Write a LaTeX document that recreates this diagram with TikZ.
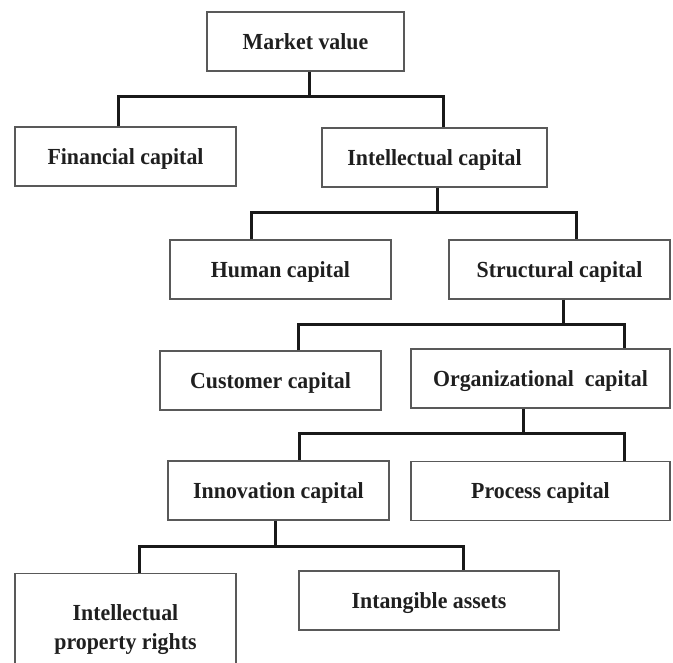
\documentclass[tikz,border=0pt]{standalone}
\usepackage{fontspec}
\setmainfont{Liberation Serif}[FakeStretch=0.95]
\begin{document}
\begin{tikzpicture}[x=1pt,y=-1pt,
  box/.style={draw=black!65, line width=1.2pt, minimum height=59pt, inner sep=0pt,
    text height=15.5pt, text depth=0pt, text=black!88,
    font=\fontsize{23}{29}\selectfont\bfseries},
  txt/.style={text=black!88, inner sep=0pt, align=center,
    font=\fontsize{23}{29}\selectfont\bfseries},
  conn/.style={draw=black!90, line width=3pt, line join=miter}]
\useasboundingbox (0,0) rectangle (673,663);
\clip (0,0) rectangle (673,663);
% boxes
\node[box, minimum width=197pt] (mv)  at (305.5,41.5)  {Market value};
\node[box, minimum width=221pt] (fin) at (125.5,156.5) {Financial capital};
\node[box, minimum width=225pt] (ic)  at (434.5,157.5) {Intellectual capital};
\node[box, minimum width=221pt] (hum) at (280.5,269.5) {Human capital};
\node[box, minimum width=221pt] (str) at (559.5,269.5) {Structural capital};
\node[box, minimum width=221pt] (cus) at (270.5,380.5) {Customer capital};
\node[box, minimum width=259pt] (org) at (540.5,378.5) {Organizational\ \ capital};
\node[box, minimum width=221pt] (inn) at (278.5,490.5) {Innovation capital};
\node[box, minimum width=259pt] (pro) at (540.5,491)   {Process capital};
\node[box, minimum width=260pt] (int) at (429,600.5)   {Intangible assets};
\node[box, minimum width=221pt, minimum height=120pt, anchor=north] (ipr) at (125.5,573) {};
\node[txt] (iprt) at (125.5,630) {Intellectual\\property rights};
% bus coordinates
\coordinate (b1l) at (118,97);   \coordinate (b1r) at (443,97);   \coordinate (b1m) at (309,97);
\coordinate (b2l) at (251,213);  \coordinate (b2r) at (576,213);  \coordinate (b2m) at (437,213);
\coordinate (b3l) at (298,325);  \coordinate (b3r) at (624,325);  \coordinate (b3m) at (563.5,325);
\coordinate (b4l) at (299,434);  \coordinate (b4r) at (624,434);  \coordinate (b4m) at (523,434);
\coordinate (b5l) at (139.5,546);\coordinate (b5r) at (463.5,546);\coordinate (b5m) at (275,546);
% connectors
\draw[conn] (mv.south -| b1m) -- (b1m);
\draw[conn] (fin.north -| b1l) -- (b1l) -- (b1r) -- (ic.north -| b1r);
\draw[conn] (ic.south -| b2m) -- (b2m);
\draw[conn] (hum.north -| b2l) -- (b2l) -- (b2r) -- (str.north -| b2r);
\draw[conn] (str.south -| b3m) -- (b3m);
\draw[conn] (cus.north -| b3l) -- (b3l) -- (b3r) -- (org.north -| b3r);
\draw[conn] (org.south -| b4m) -- (b4m);
\draw[conn] (inn.north -| b4l) -- (b4l) -- (b4r) -- (pro.north -| b4r);
\draw[conn] (inn.south -| b5m) -- (b5m);
\draw[conn] (ipr.north -| b5l) -- (b5l) -- (b5r) -- (int.north -| b5r);
\end{tikzpicture}
\end{document}
